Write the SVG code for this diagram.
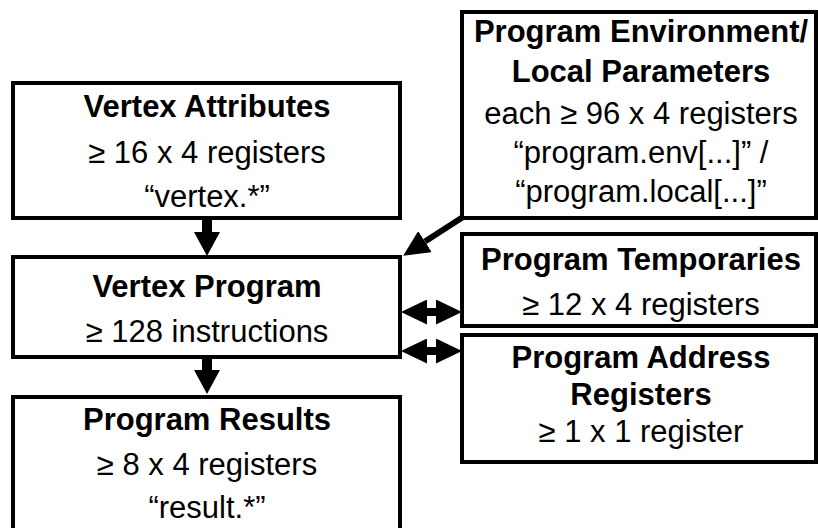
<svg xmlns="http://www.w3.org/2000/svg" width="818" height="528" viewBox="0 0 818 528">
  <style>
    .box { fill: #ffffff; stroke: #000000; stroke-width: 4; }
    .t { font-family: "Liberation Sans", Arial, sans-serif; font-size: 31px; fill: #000000; text-anchor: middle; }
    .b { font-weight: bold; }
    .flow { stroke: #000000; fill: none; }
  </style>
  <defs>
    <!-- solid triangular arrowheads, sized in user units -->
    <marker id="head" viewBox="0 0 24 26" refX="0" refY="13" markerWidth="24" markerHeight="26" markerUnits="userSpaceOnUse" orient="auto-start-reverse">
      <path d="M0,0 L24,13 L0,26 z" fill="#000000"/>
    </marker>
    <marker id="head2" viewBox="0 0 26 25" refX="0" refY="12.5" markerWidth="26" markerHeight="25" markerUnits="userSpaceOnUse" orient="auto-start-reverse">
      <path d="M0,0 L26,12.5 L0,25 z" fill="#000000"/>
    </marker>
  </defs>

  <rect width="818" height="528" fill="#ffffff"/>

  <g id="vertex-attributes">
    <rect class="box" x="13" y="83" width="387" height="135"/>
    <text class="t b" x="207" y="117">Vertex Attributes</text>
    <text class="t" x="207" y="163">≥ 16 x 4 registers</text>
    <text class="t" x="207" y="207">“vertex.*”</text>
  </g>

  <g id="vertex-program">
    <rect class="box" x="13" y="257" width="387" height="100"/>
    <text class="t b" x="207" y="297">Vertex Program</text>
    <text class="t" x="207" y="342">≥ 128 instructions</text>
  </g>

  <g id="program-results">
    <rect class="box" x="13" y="397" width="387" height="140"/>
    <text class="t b" x="207" y="430">Program Results</text>
    <text class="t" x="207" y="475">≥ 8 x 4 registers</text>
    <text class="t" x="207" y="518">“result.*”</text>
  </g>

  <g id="program-parameters">
    <rect class="box" x="462" y="12" width="354" height="206"/>
    <text class="t b" x="641" y="42">Program Environment/</text>
    <text class="t b" x="641" y="82">Local Parameters</text>
    <text class="t" x="641" y="124">each ≥ 96 x 4 registers</text>
    <text class="t" x="641" y="163">“program.env[...]” /</text>
    <text class="t" x="641" y="202">“program.local[...]”</text>
  </g>

  <g id="program-temporaries">
    <rect class="box" x="462" y="234" width="354" height="92"/>
    <text class="t b" x="641" y="270">Program Temporaries</text>
    <text class="t" x="641" y="315">≥ 12 x 4 registers</text>
  </g>

  <g id="program-address-registers">
    <rect class="box" x="462" y="335" width="354" height="127"/>
    <text class="t b" x="641" y="368">Program Address</text>
    <text class="t b" x="641" y="405">Registers</text>
    <text class="t" x="641" y="442">≥ 1 x 1 register</text>
  </g>

  <g id="connectors">
    <!-- attributes feed the program, program writes results -->
    <line class="flow" x1="207" y1="218" x2="207" y2="232" stroke-width="10" marker-end="url(#head)"/>
    <line class="flow" x1="207" y1="357" x2="207" y2="370" stroke-width="10" marker-end="url(#head)"/>
    <!-- parameters read by the program -->
    <line class="flow" x1="463" y1="217" x2="425" y2="241.6" stroke-width="6" marker-end="url(#head2)"/>
    <!-- read/write access to temporaries and address registers -->
    <line class="flow" x1="427" y1="312" x2="436" y2="312" stroke-width="8" marker-start="url(#head2)" marker-end="url(#head2)"/>
    <line class="flow" x1="427" y1="351" x2="436" y2="351" stroke-width="8" marker-start="url(#head2)" marker-end="url(#head2)"/>
  </g>
</svg>
